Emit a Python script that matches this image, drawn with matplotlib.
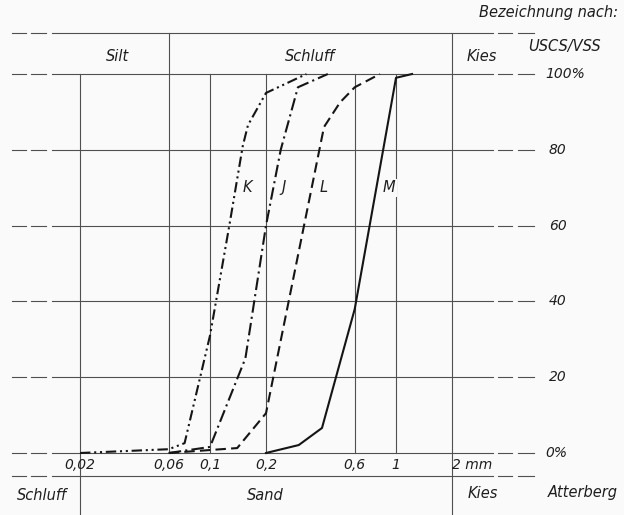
import matplotlib
matplotlib.use("Agg")
import matplotlib.pyplot as plt
import numpy as np

# grain size curves (mm, % passing)
k_size = [0.02, 0.06, 0.073, 0.1, 0.127, 0.15, 0.16, 0.2, 0.33]
k_pct = [0, 1, 2.6, 31, 60, 81, 86.5, 95, 100]
j_size = [0.06, 0.1, 0.155, 0.2, 0.24, 0.297, 0.43]
j_pct = [0, 1.6, 25, 60, 80, 96.5, 100]
l_size = [0.06, 0.14, 0.2, 0.41, 0.5, 0.6, 0.82]
l_pct = [0, 1.3, 10.5, 86, 92.5, 96.5, 100]
m_size = [0.2, 0.3, 0.4, 0.6, 1.0, 1.22]
m_pct = [0, 2.1, 6.6, 38, 99, 100]

x_ticks = [0.02, 0.06, 0.1, 0.2, 0.6, 1, 2]
x_labels = ["0,02", "0,06", "0,1", "0,2", "0,6", "1", "2 mm"]
y_ticks = [0, 20, 40, 60, 80, 100]
y_labels = ["0%", "20", "40", "60", "80", "100%"]

curve_names = ["K", "J", "L", "M"]
curve_label_x = [0.158, 0.25, 0.41, 0.92]
curve_label_y = 70

plt.rcParams["font.family"] = "DejaVu Sans"
plt.rcParams["font.style"] = "italic"

fig = plt.figure(figsize=(6.24, 5.15), dpi=100, facecolor="#fafafa")
# plot box in pixels: x 80..452, y 74 (100%)..453 (0%)
PL, PR, PT, PB = 80, 452, 74, 453
ax = fig.add_axes([PL / 624, (515 - PB) / 515, (PR - PL) / 624, (PB - PT) / 515])
ax.set_facecolor("none")
ax.set_xscale("log")
ax.set_xlim(0.02, 2)
ax.set_ylim(0, 100)
ax.axis("off")

def fx(px):
    return (px - PL) / (PR - PL)

def fy(py):
    return (PB - py) / (PB - PT)

gc = "#505050"
glw = 0.8
tc = "#1e1e1e"

def hline(y, tr):
    ax.plot([fx(52), fx(493)], [y, y], transform=tr, clip_on=False, color=gc, lw=glw)
    for a, b in [(12, 26), (31, 46), (498, 512), (518, 534)]:
        ax.plot([fx(a), fx(b)], [y, y], transform=tr, clip_on=False, color=gc, lw=glw)

for v in y_ticks:
    hline(v, ax.get_yaxis_transform())
hline(fy(33), ax.transAxes)
hline(fy(476), ax.transAxes)

xt = ax.get_xaxis_transform()
for v in x_ticks:
    top, bot = fy(PT), fy(PB)
    if v in (0.06, 2):
        top = fy(33)
    if v in (0.02, 2):
        bot = fy(515)
    ax.plot([v, v], [bot, top], transform=xt, clip_on=False, color=gc, lw=glw)

# curves
ax.plot(k_size, k_pct, color="#151515", lw=1.5, ls=(0, (5, 1.8, 1, 1.8, 1, 1.8)), clip_on=False)
ax.plot(j_size, j_pct, color="#151515", lw=1.5, ls=(0, (6, 2, 1, 2)), clip_on=False)
ax.plot(l_size, l_pct, color="#151515", lw=1.5, ls=(0, (5, 2.5)), clip_on=False)
ax.plot(m_size, m_pct, color="#151515", lw=1.5, clip_on=False)

for name, xv in zip(curve_names, curve_label_x):
    ax.text(xv, curve_label_y, name, ha="center", va="center", fontsize=10.5, color=tc,
            bbox=dict(facecolor="#fafafa", edgecolor="none", pad=1))

# tick labels
for v, lab in zip(x_ticks, x_labels):
    if lab.endswith("mm"):
        ax.text(v, fy(465), lab, transform=xt, ha="left", va="center", fontsize=10, color=tc)
    else:
        ax.text(v, fy(465), lab, transform=xt, ha="center", va="center", fontsize=10, color=tc)

yt = ax.get_yaxis_transform()
for v, lab in zip(y_ticks, y_labels):
    xpos = 545 if lab.endswith("%") else 549
    ax.text(fx(xpos), v, lab, transform=yt, ha="left", va="center", fontsize=10, color=tc)

# classification boxes
ta = ax.transAxes
ax.text(fx(118), fy(57), "Silt", transform=ta, ha="center", va="center", fontsize=10.5, color=tc)
ax.text(fx(310), fy(57), "Schluff", transform=ta, ha="center", va="center", fontsize=10.5, color=tc)
ax.text(fx(482), fy(57), "Kies", transform=ta, ha="center", va="center", fontsize=10.5, color=tc)
ax.text(fx(564), fy(46), "USCS/VSS", transform=ta, ha="center", va="center", fontsize=10.5, color=tc)
ax.text(fx(618), fy(13), "Bezeichnung nach:", transform=ta, ha="right", va="center", fontsize=10.5, color=tc)

ax.text(fx(42), fy(495), "Schluff", transform=ta, ha="center", va="center", fontsize=10.5, color=tc)
ax.text(fx(265), fy(495), "Sand", transform=ta, ha="center", va="center", fontsize=10.5, color=tc)
ax.text(fx(483), fy(493), "Kies", transform=ta, ha="center", va="center", fontsize=10.5, color=tc)
ax.text(fx(583), fy(493), "Atterberg", transform=ta, ha="center", va="center", fontsize=10.5, color=tc)

fig.savefig("out.png", dpi=100, facecolor=fig.get_facecolor())
